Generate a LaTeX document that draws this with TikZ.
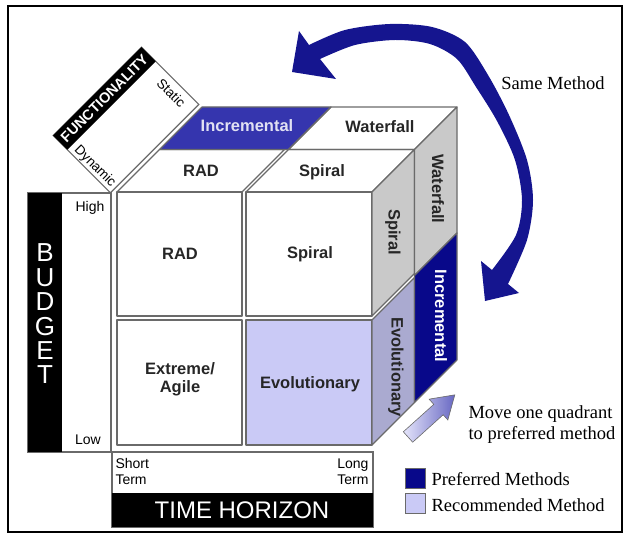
\documentclass[tikz,border=0pt]{standalone}
\usepackage{fontspec}
\setmainfont{Liberation Serif}
\setsansfont{Liberation Sans}
\definecolor{edgegray}{HTML}{6A6A6A}
\definecolor{sidegray}{HTML}{C9C9C9}
\definecolor{incblue}{HTML}{3535AE}
\definecolor{prefnavy}{HTML}{08088A}
\definecolor{recomlav}{HTML}{CACAF6}
\definecolor{evogray}{HTML}{AAAAD0}
\definecolor{arrowblue}{HTML}{15158F}

\begin{document}
\begin{tikzpicture}[x=1pt,y=-1pt,
    face/.style={draw=edgegray,line width=1.1pt,line join=round},
    lbl/.style={font=\sffamily\bfseries\fontsize{16.5}{18}\selectfont,text=black!85,align=center},
    sidelbl/.style={lbl,rotate=-90},
    axislbl/.style={font=\sffamily\fontsize{14}{16}\selectfont},
    note/.style={font=\fontsize{18.5}{21}\selectfont,align=left}]
            \useasboundingbox (0,0) rectangle (626,537);
            \draw[line width=1.8pt] (8,6) rectangle (622,532);

            \begin{scope}[shift={(126,120)},rotate=45]
                \draw[edgegray,line width=1.2pt,fill=white] (-62.5,-40.5) rectangle (62.5,40.5);
                \fill[black] (-62.5,-40.5) rectangle (62.5,-20.5);
                \node[text=white,font=\sffamily\bfseries\fontsize{14.5}{16}\selectfont,rotate=45] (func) at (0,-30.5) {FUNCTIONALITY};
                \node[axislbl,font=\sffamily\fontsize{13.5}{15}\selectfont,rotate=-45] (static) at (51,13) {Static};
                \node[axislbl,font=\sffamily\fontsize{13.5}{15}\selectfont,rotate=-45] (dynamic) at (-55,11) {Dynamic};
            \end{scope}

            \draw[edgegray,line width=1.2pt] (28,193) rectangle (111,452);
            \fill[black] (28,193) rectangle (62,452);
            \node[text=white,font=\sffamily\fontsize{26}{24.4}\selectfont,align=center] (budget) at (45,314) {B\\U\\D\\G\\E\\T};
            \node[axislbl] (high) at (90,208) {High};
            \node[axislbl] (low) at (88,440) {Low};

            \draw[edgegray,line width=1.2pt] (112,452) rectangle (373,527);
            \fill[black] (112,493) rectangle (373,527);
            \node[text=white,font=\sffamily\fontsize{24}{26}\selectfont] (time) at (242,510) {TIME HORIZON};
            \node[axislbl,align=left,anchor=north west] (short) at (112,455) {Short\\Term};
            \node[axislbl,align=right,anchor=north east] (long) at (372,455) {Long\\Term};

            \draw[face] (117,192) rectangle (242,316);
            \draw[face] (246,192) rectangle (372,316);
            \draw[face] (117,320) rectangle (242,445);
            \draw[face,fill=recomlav] (246,320) rectangle (372,445);

            \draw[face] (117,192) -- (242,192) -- (284.5,149.5) -- (159.5,149.5) -- cycle;
            \draw[face] (246,192) -- (372,192) -- (414.5,149.5) -- (288.5,149.5) -- cycle;
            \draw[face,fill=incblue] (159.5,149.5) -- (288.5,149.5) -- (331,107) -- (202,107) -- cycle;
            \draw[face] (288.5,149.5) -- (414.5,149.5) -- (457,107) -- (331,107) -- cycle;

            \draw[face,fill=sidegray] (372,192) -- (414.5,149.5) -- (414.5,273.5) -- (372,316) -- cycle;
            \draw[face,fill=evogray] (372,320) -- (414.5,277.5) -- (414.5,402.5) -- (372,445) -- cycle;
            \draw[face,fill=sidegray] (414.5,149.5) -- (457,107) -- (457,233) -- (414.5,275.5) -- cycle;
            \draw[face,fill=prefnavy] (414.5,275.5) -- (457,233) -- (457,360) -- (414.5,402.5) -- cycle;

            \node[lbl] (radfront) at (180,254) {RAD};
            \node[lbl] (spiralfront) at (310,254) {Spiral};
            \node[lbl] (agile) at (180,379) {Extreme/\\Agile};
            \node[lbl] (evofront) at (310,384) {Evolutionary};
            \node[lbl] (radtop) at (201,171) {RAD};
            \node[lbl] (spiraltop) at (322,172) {Spiral};
            \node[lbl,text=white!85!incblue] (inctop) at (247,126) {Incremental};
            \node[lbl] (wftop) at (380,127) {Waterfall};
            \node[sidelbl] (spiralside) at (393,232) {Spiral};
            \node[sidelbl] (wfside) at (438,189) {Waterfall};
            \node[sidelbl] (evoside) at (396,367) {Evolutionary};
            \node[sidelbl,text=white] (incside) at (441,316) {Incremental};

            \fill[arrowblue] (292,72) -- (299,31) -- (309,45)
                -- plot[smooth] coordinates {(309,45) (345,30) (390,24) (432,27) (465,42) (488,75) (509,115) (527,160) (533,200) (527,240) (508,284)}
                -- (519,293) -- (485,301) -- (481,261) -- (492,270)
                -- plot[smooth] coordinates {(492,270) (516,235) (522,200) (515,160) (497,121) (476,87) (457,59) (430,44) (395,40) (355,45) (320,59)}
                -- (336,79) -- cycle;
            \node[note] (same) at (553,83) {Same Method};

            \begin{scope}[shift={(408,437)},rotate=42]
                \shade[draw=edgegray,line width=0.6pt,left color=recomlav!50!white,right color=incblue!75!white]
                    (0,-7) -- (41,-7) -- (41,-14) -- (63,0) -- (41,14) -- (41,7) -- (0,7) -- cycle;
            \end{scope}
            \node[note,anchor=west] (move) at (465,425) {Move one quadrant\\to preferred method};

            \draw[edgegray,fill=prefnavy] (405,468) rectangle (425,488);
            \draw[edgegray,fill=recomlav] (405,493) rectangle (425,513);
            \node[note,anchor=west] (pref) at (428,479) {Preferred Methods};
            \node[note,anchor=west] (recom) at (428,505) {Recommended Method};
        \end{tikzpicture}
\end{document}
